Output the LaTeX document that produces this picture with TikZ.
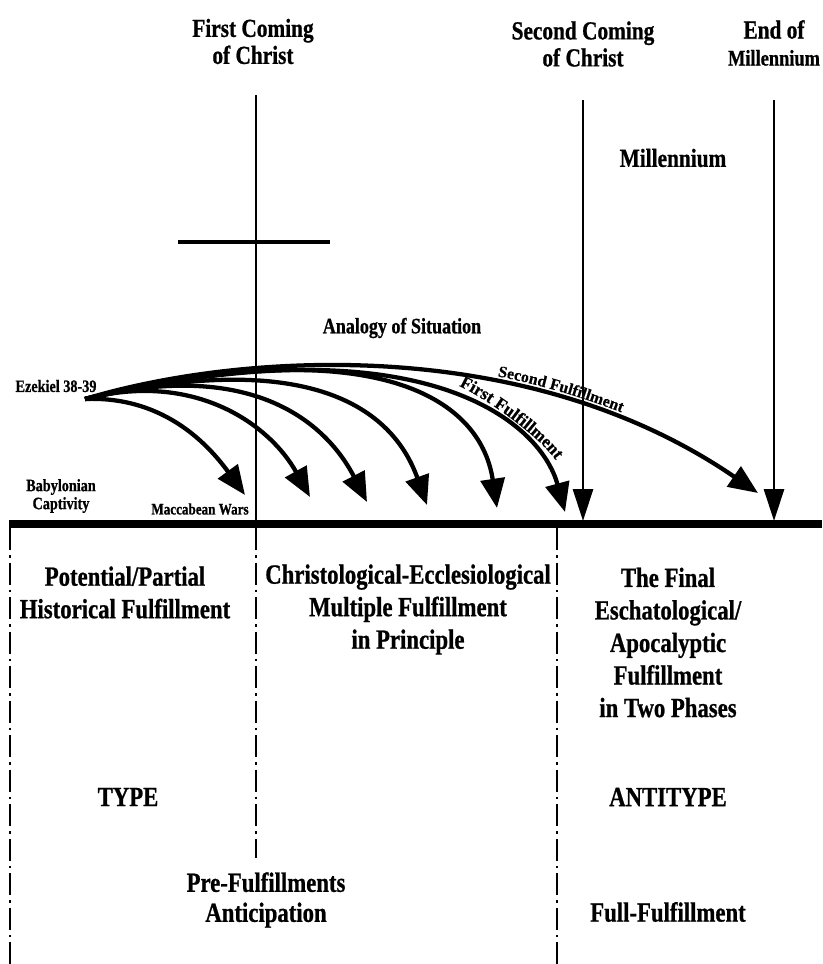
\documentclass[tikz,border=0pt]{standalone}
\usepackage{fontspec}
\setmainfont[FakeStretch=0.82,BoldFeatures={FakeBold=0.8}]{Liberation Serif}
\newfontfamily\curvefont[BoldFeatures={FakeBold=0.6}]{Liberation Serif}
\usetikzlibrary{arrows.meta,decorations.text}
\begin{document}
\begin{tikzpicture}[x=0.75pt,y=-0.75pt,
  toplbl/.style={font=\bfseries\fontsize{19.5}{20.25}\selectfont,align=center,inner sep=0pt},
  body/.style={font=\bfseries\fontsize{20.8}{24.4}\selectfont,align=center,inner sep=0pt},
  midlbl/.style={font=\bfseries\fontsize{16.5}{18}\selectfont,align=center,inner sep=0pt},
  smalllbl/.style={font=\bfseries\fontsize{13}{13.5}\selectfont,align=center,inner sep=0pt},
  tinylbl/.style={font=\bfseries\fontsize{12}{13}\selectfont,align=center,inner sep=0pt},
  vline/.style={line width=2.2pt},
  curvearrow/.style={line width=3.2pt,-{Triangle[length=22pt,width=18pt]}},
  downarrow/.style={line width=2.2pt,-{Triangle[length=24pt,width=15pt]}},
  axisline/.style={line width=5.5pt},
  divider/.style={line width=1.5pt,dash pattern=on 16.5pt off 3.75pt on 1.9pt off 3.75pt},
  pathtext/.style={decorate,decoration={text along path,text align=center,text={#1}}},
]
\useasboundingbox (0,0) rectangle (822,964);

% top labels
\node[toplbl] (first) at (253,41.5) {First Coming\\of Christ};
\node[toplbl] (second) at (583,44) {Second Coming\\of Christ};
\node[toplbl] (endm) at (774,43) {End of\\{\fontsize{16.8}{20}\selectfont Millennium}};
\node[midlbl,font=\bfseries\fontsize{19.5}{20}\selectfont] (mill) at (673,158) {Millennium};
\node[midlbl] (analogy) at (402,328) {Analogy of Situation};

% key coordinates
\coordinate (fcTop) at (256,95);
\coordinate (fcBot) at (256,524);
\coordinate (scTop) at (583,100);
\coordinate (scBot) at (583,521);
\coordinate (emTop) at (774,100);
\coordinate (emBot) at (774,521);
\coordinate (crL) at (178,242);
\coordinate (crR) at (330,242);
\coordinate (axL) at (9,524);
\coordinate (axR) at (822,524);
\coordinate (ez) at (85,399);
\coordinate (t1) at (245,495);
\coordinate (t2) at (310,497);
\coordinate (t3) at (367,502);
\coordinate (t4) at (427,505);
\coordinate (t5) at (497,508);
\coordinate (t6) at (565,512);
\coordinate (t7) at (758,493);

% first coming line and cross
\draw[vline] (fcTop) -- (fcBot);
\draw[line width=3pt] (crL) -- (crR);

% second coming and end of millennium arrows
\draw[downarrow] (scTop) -- (scBot);
\draw[downarrow] (emTop) -- (emBot);

% fan of fulfilment arrows
\draw[curvearrow] (ez) .. controls (160,396) and (205,440) .. (t1);
\draw[curvearrow] (ez) .. controls (195,370) and (270,425) .. (t2);
\draw[curvearrow] (ez) .. controls (260,355) and (330,430) .. (t3);
\draw[curvearrow] (ez) .. controls (320,345) and (395,415) .. (t4);
\draw[curvearrow] (ez) .. controls (370,330) and (480,395) .. (t5);
\draw[curvearrow] (ez) .. controls (420,320) and (540,420) .. (t6);
\draw[curvearrow] (ez) .. controls (230,355) and (520,330) .. (t7);

% curved labels
\path[pathtext={|\curvefont\bfseries\fontsize{13}{13}\selectfont|First Fulfillment}]
  (457,385) .. controls (484,397) and (539,435) .. (557,462);
\path[pathtext={|\curvefont\bfseries\fontsize{12}{12}\selectfont|Second Fulfillment}]
  (496,376) .. controls (537,384) and (580,396) .. (623,413);

% left labels
\node[smalllbl] (ezl) at (56,386) {Ezekiel 38-39};
\node[smalllbl] (baby) at (61,496) {Babylonian\\Captivity};
\node[tinylbl] (macc) at (200,509) {Maccabean Wars};

% axis
\draw[axisline] (axL) -- (axR);

% dividers
\coordinate (d1t) at (10,528);
\coordinate (d1b) at (10,964);
\coordinate (d2t) at (256,528);
\coordinate (d2b) at (256,858);
\coordinate (d3t) at (557,528);
\coordinate (d3b) at (557,964);
\draw[divider] (d1t) -- (d1b);
\draw[divider] (d2t) -- (d2b);
\draw[divider] (d3t) -- (d3b);

% column texts
\node[body] (c1) at (125,592.5) {Potential/Partial\\Historical Fulfillment};
\node[body] (c2) at (408,609.5) {Christological-Ecclesiological\\Multiple Fulfillment\\in Principle};
\node[body] (c3) at (668,642.5) {The Final\\Eschatological/\\Apocalyptic\\Fulfillment\\in Two Phases};
\node[body] (type) at (128,797) {TYPE};
\node[body] (antitype) at (668,797) {ANTITYPE};
\node[body,font=\bfseries\fontsize{20.8}{22.5}\selectfont] (pre) at (266,900) {Pre-Fulfillments\\Anticipation};
\node[body] (full) at (668,912) {Full-Fulfillment};
\end{tikzpicture}
\end{document}
